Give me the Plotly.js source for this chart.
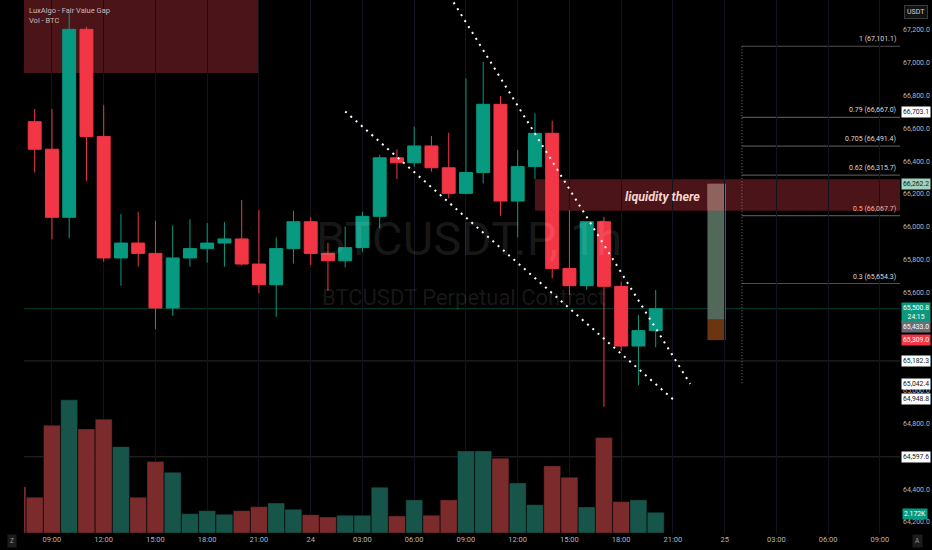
<!DOCTYPE html>
<html><head><meta charset="utf-8">
<script src="https://cdn.plot.ly/plotly-3.0.1.min.js"></script>
<style>html,body{margin:0;padding:0;background:#000;}#chart{width:932px;height:550px;}</style>
</head><body><div id="chart"></div>
<script>
const FONT = 'Roboto, "Liberation Sans", sans-serif';

// hourly timestamps (first one is only partly visible as a volume bar)
const times = ['2024-10-23 07:00','2024-10-23 08:00','2024-10-23 09:00','2024-10-23 10:00','2024-10-23 11:00','2024-10-23 12:00','2024-10-23 13:00','2024-10-23 14:00','2024-10-23 15:00','2024-10-23 16:00','2024-10-23 17:00','2024-10-23 18:00','2024-10-23 19:00','2024-10-23 20:00','2024-10-23 21:00','2024-10-23 22:00','2024-10-23 23:00','2024-10-24 00:00','2024-10-24 01:00','2024-10-24 02:00','2024-10-24 03:00','2024-10-24 04:00','2024-10-24 05:00','2024-10-24 06:00','2024-10-24 07:00','2024-10-24 08:00','2024-10-24 09:00','2024-10-24 10:00','2024-10-24 11:00','2024-10-24 12:00','2024-10-24 13:00','2024-10-24 14:00','2024-10-24 15:00','2024-10-24 16:00','2024-10-24 17:00','2024-10-24 18:00','2024-10-24 19:00','2024-10-24 20:00'];
const candleTimes = times.slice(1);

const opens  = [66641,66473,66058,67204,66551,65810,65901,65838,65505,65810,65867,65901,65926,65773,65647,65867,66031,65838,65793,65873,66064,66421,66391,66493,66360,66204,66331,66747,66157,66367,66570,65746,65641,66031,65637,65273,65367];
const highs  = [66718,66718,67304,67220,66741,66078,66092,66037,66009,66046,66023,66029,66163,66102,65936,66098,66060,65903,66001,66092,66438,66473,66610,66554,66574,66906,67005,66798,66468,66692,66647,66102,66035,66062,65665,65462,65615];
const lows   = [66331,65924,65930,66281,65787,65641,65757,65377,65458,65757,65781,65757,65765,65595,65452,65776,65767,65609,65753,65848,65991,66292,66367,66336,66174,66198,66265,66068,65936,66292,65686,65584,65615,64903,65243,65034.3,65265];
const closes = [66473,66058,67204,66551,65810,65901,65838,65505,65810,65867,65901,65926,65773,65647,65867,66031,65838,65793,65873,66064,66421,66391,66493,66360,66204,66331,66747,66157,66367,66570,65746,65641,66031,65637,65273,65367,65500.8];

const volumes = [4860,3750,11300,13970,10920,11940,9060,3750,7490,6370,2030,2340,1960,2340,2760,3150,2490,1920,1680,1860,1860,4800,1790,3470,1860,3470,8610,8610,7840,5250,2970,7040,5850,2730,10010,3290,3470,2172];
const firstVolumeUp = [false];

const tickTimes = ['2024-10-23 09:00','2024-10-23 12:00','2024-10-23 15:00','2024-10-23 18:00','2024-10-23 21:00','2024-10-24 00:00','2024-10-24 03:00','2024-10-24 06:00','2024-10-24 09:00','2024-10-24 12:00','2024-10-24 15:00','2024-10-24 18:00','2024-10-24 21:00','2024-10-25 00:00','2024-10-25 03:00','2024-10-25 06:00','2024-10-25 09:00'];
const tickLabels = ['09:00','12:00','15:00','18:00','21:00','24','03:00','06:00','09:00','12:00','15:00','18:00','21:00','25','03:00','06:00','09:00'];
const priceTicks = [64200,64400,64800,65000,65600,65800,66000,66200,66400,66600,66800,67000,67200];

// Drawings
const fibRatios = [1, 0.79, 0.705, 0.62, 0.5, 0.3];
const fibLevels = [67101.1, 66667.0, 66491.4, 66315.7, 66067.7, 65654.3];
const fibZero = 65034.3;
const fibStart = '2024-10-25 01:00';

const trendATimes = ['2024-10-24 02:00','2024-10-24 21:00'];
const trendAPrices = [66703.1, 64948.8];
const trendBTimes = ['2024-10-24 07:00','2024-10-24 22:00'];
const trendBPrices = [67586, 65042.4];

const fvgTimes = ['2024-10-23 05:00','2024-10-23 21:00'];
const fvgPrices = [66938, 67700];
const liqTimes = ['2024-10-24 13:00','2024-10-25 14:00'];
const liqPrices = [66098, 66290];
const liqText = 'liquidity there';
const liqTextTime = '2024-10-24 20:22';

const posTimes = ['2024-10-24 23:00','2024-10-25 00:04'];
const posTarget = 66262.2, posEntry = 65433.0, posStop = 65309.0;

const currentPrice = 65500.8;
const countdown = '24:15';
const levelLines = [65182.3, 64597.6];
const whiteTags = [66703.1, 65182.3, 65042.4, 64948.8, 64597.6];
const lastVolumeLabel = '2.172K';

const fmt = v => v.toLocaleString('en-US',{minimumFractionDigits:1, maximumFractionDigits:1});

const volColors = volumes.map((v,i) => {
  const up = i === 0 ? firstVolumeUp[0] : closes[i-1] >= opens[i-1];
  return up ? '#17544a' : '#7b2b2b';
});

const traces = [
  {type:'bar', x:times, y:volumes, yaxis:'y2', marker:{color:volColors, line:{width:0.8, color:'rgba(0,0,0,0.45)'}}, width:3600000*0.98, hoverinfo:'skip', showlegend:false},
  {type:'candlestick', x:candleTimes, open:opens, high:highs, low:lows, close:closes,
   increasing:{line:{color:'#089981', width:1}, fillcolor:'#089981'},
   decreasing:{line:{color:'#f23645', width:1}, fillcolor:'#f23645'},
   whiskerwidth:0, hoverinfo:'skip', showlegend:false}
];

const shapes = [];
shapes.push({type:'rect', layer:'below', xref:'x', yref:'y', x0:fvgTimes[0], x1:fvgTimes[1], y0:fvgPrices[0], y1:fvgPrices[1], fillcolor:'#4a1419', line:{width:0}});
shapes.push({type:'rect', layer:'below', xref:'x', yref:'y', x0:liqTimes[0], x1:liqTimes[1], y0:liqPrices[0], y1:liqPrices[1], fillcolor:'#4a1419', line:{width:0}});
levelLines.forEach(p => shapes.push({type:'line', layer:'below', xref:'paper', yref:'y', x0:0, x1:1, y0:p, y1:p, line:{color:'#2a2a2a', width:1}}));
shapes.push({type:'line', layer:'below', xref:'paper', yref:'y', x0:0, x1:1, y0:currentPrice, y1:currentPrice, line:{color:'rgba(8,153,129,0.4)', width:1}});
fibLevels.forEach(p => shapes.push({type:'line', layer:'below', xref:'x', yref:'y', x0:fibStart, x1:'2024-10-25 14:00', y0:p, y1:p, line:{color:'#505050', width:1.2}}));
shapes.push({type:'line', layer:'below', xref:'x', yref:'y', x0:fibStart, x1:fibStart, y0:fibLevels[0], y1:fibZero, line:{color:'#7a7a7a', width:1, dash:'1px,2px'}});
shapes.push({type:'rect', layer:'below', xref:'x', yref:'y', x0:posTimes[0], x1:posTimes[1], y0:posEntry, y1:posTarget, fillcolor:'#52685a', line:{width:0}});
shapes.push({type:'rect', layer:'below', xref:'x', yref:'y', x0:posTimes[0], x1:posTimes[1], y0:Math.max(posEntry, liqPrices[0]), y1:Math.min(posTarget, liqPrices[1]), fillcolor:'#8f625d', line:{width:0}});
shapes.push({type:'rect', layer:'below', xref:'x', yref:'y', x0:posTimes[0], x1:posTimes[1], y0:posStop, y1:posEntry, fillcolor:'#6b3511', line:{width:0}});
shapes.push({type:'line', layer:'above', xref:'x', yref:'y', x0:trendATimes[0], x1:trendATimes[1], y0:trendAPrices[0], y1:trendAPrices[1], line:{color:'#ffffff', width:2, dash:'2px,5px'}});
shapes.push({type:'line', layer:'above', xref:'x', yref:'y', x0:trendBTimes[0], x1:trendBTimes[1], y0:trendBPrices[0], y1:trendBPrices[1], line:{color:'#ffffff', width:2, dash:'2px,5px'}});

const annotations = [];
annotations.push({xref:'paper', yref:'paper', x:0.508, y:0.553, text:'BTCUSDT.P, 1h', showarrow:false, font:{family:FONT, size:47, color:'rgba(255,255,255,0.10)'}});
annotations.push({xref:'paper', yref:'paper', x:0.502, y:0.442, text:'BTCUSDT Perpetual Contract', showarrow:false, font:{family:FONT, size:22, color:'rgba(255,255,255,0.10)'}});
annotations.push({xref:'paper', yref:'paper', x:0, xshift:3, xanchor:'left', y:1, yshift:-10, yanchor:'middle', text:'LuxAlgo - Fair Value Gap', showarrow:false, font:{family:FONT, size:7.5, color:'#c8bcbc'}});
annotations.push({xref:'paper', yref:'paper', x:0, xshift:3, xanchor:'left', y:1, yshift:-20, yanchor:'middle', text:'Vol - BTC', showarrow:false, font:{family:FONT, size:7.5, color:'#c8bcbc'}});
annotations.push({xref:'x', yref:'y', x:liqTextTime, y:(liqPrices[0]+liqPrices[1])/2, yshift:-1, text:'<b><i>'+liqText+'</i></b>', showarrow:false, font:{family:FONT, size:12.5, color:'#f6d6cf'}});
fibLevels.forEach((p,i) => annotations.push({xref:'paper', yref:'y', x:1, xshift:-2, xanchor:'right', y:p, yanchor:'bottom', yshift:1, text:fibRatios[i]+' ('+fmt(p)+')', showarrow:false, font:{family:FONT, size:7, color: fibRatios[i]===0.5 ? '#eeb39c' : '#d8d8d8'}}));
function tag(price, bg, fg, text, ref, extra) {
  return Object.assign({xref:'paper', x:1, xanchor:'left', xshift:1, yref:ref||'y', y:price, yanchor:'middle', text:text, showarrow:false, bgcolor:bg, font:{family:FONT, size:6.8, color:fg}, borderpad:1, align:'center'}, extra||{});
}
whiteTags.forEach(p => annotations.push(tag(p, '#ffffff', '#131722', fmt(p))));
annotations.push(tag(posTarget, '#9fd2bf', '#131722', fmt(posTarget)));
annotations.push(tag(currentPrice, '#089981', '#ffffff', fmt(currentPrice)+'<br>'+countdown, 'y', {yanchor:'top', yshift:7}));
annotations.push(tag(posEntry, '#6a6d78', '#ffffff', fmt(posEntry), 'y', {yshift:-7}));
annotations.push(tag(posStop, '#f23645', '#ffffff', fmt(posStop)));
annotations.push(tag(volumes[volumes.length-1], '#089981', '#ffffff', lastVolumeLabel, 'y2', {yanchor:'top', xshift:2, yshift:4}));
annotations.push({xref:'paper', yref:'paper', x:1, xanchor:'left', xshift:4, y:1, yanchor:'top', yshift:-5, text:'USDT', showarrow:false, bgcolor:'#131313', bordercolor:'#3a3a3a', borderwidth:1, borderpad:2, font:{family:FONT, size:7, color:'#d1d4dc'}});
annotations.push({xref:'paper', yref:'paper', x:0, xanchor:'center', xshift:-12, y:0, yanchor:'middle', yshift:-8, text:'Z', showarrow:false, bgcolor:'#1c1c1c', borderpad:2, font:{family:FONT, size:6.5, color:'#9a9a9a'}});
annotations.push({xref:'paper', yref:'paper', x:1, xanchor:'center', xshift:17, y:0, yanchor:'middle', yshift:-8, text:'A', showarrow:false, bgcolor:'#1c1c1c', borderpad:2, font:{family:FONT, size:6.5, color:'#9a9a9a'}});

const layout = {
  width:932, height:550,
  paper_bgcolor:'#000000', plot_bgcolor:'#000000',
  margin:{l:24, r:32, t:0, b:17, pad:0},
  showlegend:false,
  font:{family:FONT, size:8, color:'#b2b5be'},
  boxgap:0.25, boxgroupgap:0,
  xaxis:{type:'date', range:['2024-10-23 07:22:48','2024-10-25 10:09:44'], tickmode:'array', tickvals:tickTimes, ticktext:tickLabels,
         showgrid:true, gridcolor:'#11141c', gridwidth:1, zeroline:false, showline:false, ticks:'', rangeslider:{visible:false},
         tickfont:{family:FONT, size:7.5, color:'#b2b5be'}, fixedrange:true},
  yaxis:{side:'right', range:[64133, 67383], tickmode:'array', tickvals:priceTicks, tickformat:',.1f', showgrid:false, zeroline:false, showline:false, ticks:'',
         ticklabelstandoff:2, tickfont:{family:FONT, size:7, color:'#b2b5be'}, fixedrange:true},
  yaxis2:{overlaying:'y', range:[0, 55912], visible:false, fixedrange:true},
  shapes:shapes, annotations:annotations
};

Plotly.newPlot('chart', traces, layout, {displayModeBar:false, staticPlot:true});
</script></body></html>
